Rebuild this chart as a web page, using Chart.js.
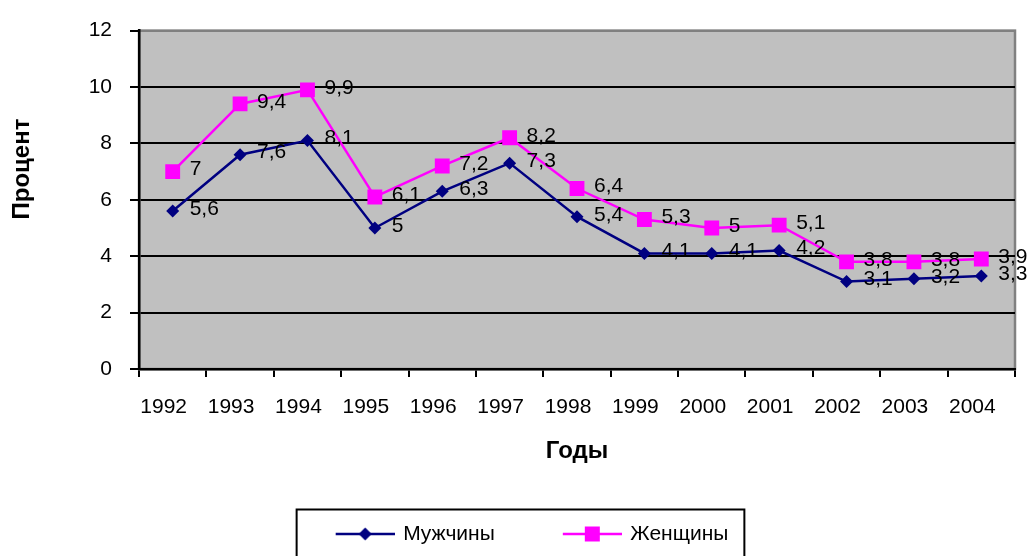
<!DOCTYPE html>
<html>
<head>
<meta charset="utf-8">
<script src="https://cdn.jsdelivr.net/npm/chart.js@4/dist/chart.umd.min.js"></script>
<style>
  body { margin: 0; background: #fff; }
</style>
</head>
<body>
<canvas id="myChart" width="1029" height="556"></canvas>
<script>
// Values
const years = ["1992", "1993", "1994", "1995", "1996", "1997", "1998", "1999", "2000", "2001", "2002", "2003", "2004"];
const men = [5.6, 7.6, 8.1, 5, 6.3, 7.3, 5.4, 4.1, 4.1, 4.2, 3.1, 3.2, 3.3];
const women = [7, 9.4, 9.9, 6.1, 7.2, 8.2, 6.4, 5.3, 5, 5.1, 3.8, 3.8, 3.9];
const yTicks = [0, 2, 4, 6, 8, 10, 12];
const seriesNames = ["Мужчины", "Женщины"];
const yTitle = "Процент";
const xTitle = "Годы";

const FONT = "'Liberation Sans', Arial, sans-serif";
Chart.defaults.font.family = FONT;
Chart.defaults.color = "#000";

// legend icon: line with the marker in the middle (left part stays empty = gap between items)
function legendIcon(color, style) {
  const c = document.createElement("canvas");
  c.width = 110;
  c.height = 20;
  const g = c.getContext("2d");
  g.strokeStyle = color;
  g.fillStyle = color;
  g.lineWidth = 2.5;
  g.beginPath();
  g.moveTo(51, 10);
  g.lineTo(110, 10);
  g.stroke();
  const cx = 80.5;
  g.beginPath();
  if (style === "rect") {
    g.rect(cx - 7.5, 2.5, 15, 15);
  } else {
    g.moveTo(cx - 6.5, 10);
    g.lineTo(cx, 3.5);
    g.lineTo(cx + 6.5, 10);
    g.lineTo(cx, 16.5);
    g.closePath();
  }
  g.fill();
  return c;
}

// grey plot area with its border
const plotArea = {
  id: "plotArea",
  beforeDraw(chart) {
    const { ctx, chartArea: a } = chart;
    ctx.save();
    ctx.fillStyle = "#C0C0C0";
    ctx.fillRect(a.left, a.top, a.right - a.left, a.bottom - a.top);
    ctx.strokeStyle = "#808080";
    ctx.lineWidth = 2.5;
    ctx.strokeRect(a.left, a.top, a.right - a.left, a.bottom - a.top);
    ctx.restore();
  },
};

// value labels right of each point, with a decimal comma
const valueLabels = {
  id: "valueLabels",
  afterDatasetsDraw(chart) {
    const ctx = chart.ctx;
    ctx.save();
    ctx.font = "21px " + FONT;
    ctx.fillStyle = "#000";
    ctx.textAlign = "left";
    ctx.textBaseline = "middle";
    chart.data.datasets.forEach((ds, i) => {
      chart.getDatasetMeta(i).data.forEach((pt, j) => {
        ctx.fillText(String(ds.data[j]).replace(".", ","), pt.x + 17, pt.y - 2);
      });
    });
    ctx.restore();
  },
};

// y title (sits higher than the axis middle) and the legend frame
const extras = {
  id: "extras",
  afterDraw(chart) {
    const ctx = chart.ctx;
    ctx.save();
    ctx.translate(29, 169);
    ctx.rotate(-Math.PI / 2);
    ctx.font = "bold 24px " + FONT;
    ctx.textAlign = "center";
    ctx.textBaseline = "alphabetic";
    ctx.fillStyle = "#000";
    ctx.fillText(yTitle, 0, 0);
    ctx.restore();

    const boxes = chart.legend.legendHitBoxes;
    if (boxes && boxes.length) {
      const first = boxes[0];
      const last = boxes[boxes.length - 1];
      const left = first.left + 49 - 39;
      const right = last.left + last.width + 16;
      const top = first.top + first.height / 2 - 24.5;
      ctx.save();
      ctx.strokeStyle = "#000";
      ctx.lineWidth = 2;
      ctx.strokeRect(left, top, right - left, 60);
      ctx.restore();
    }
  },
};

const icons = [legendIcon("#000080", "rectRot"), legendIcon("#FF00FF", "rect")];

new Chart(document.getElementById("myChart"), {
  type: "line",
  data: {
    labels: years,
    datasets: [
      {
        label: seriesNames[0],
        data: men,
        borderColor: "#000080",
        backgroundColor: "#000080",
        borderWidth: 2.5,
        pointStyle: "rectRot",
        pointRadius: 6.5,
        pointBorderWidth: 0,
        tension: 0,
      },
      {
        label: seriesNames[1],
        data: women,
        borderColor: "#FF00FF",
        backgroundColor: "#FF00FF",
        borderWidth: 2.5,
        pointStyle: "rect",
        pointRadius: 10.5,
        pointBorderWidth: 0,
        tension: 0,
      },
    ],
  },
  options: {
    responsive: false,
    animation: false,
    devicePixelRatio: 1,
    layout: {
      autoPadding: false,
      padding: { left: 0, right: 14, top: 23, bottom: 1.5 },
    },
    scales: {
      x: {
        type: "category",
        offset: true,
        grid: {
          display: true,
          drawOnChartArea: false,
          drawTicks: true,
          tickLength: 8,
          offset: true,
          color: "#000",
          lineWidth: 2,
        },
        border: { color: "#000", width: 2.5 },
        ticks: {
          font: { size: 21 },
          padding: 18,
          labelOffset: -9,
          maxRotation: 0,
          autoSkip: false,
        },
        title: {
          display: true,
          text: xTitle,
          font: { size: 24, weight: "bold" },
          padding: { top: 0, bottom: 39 },
        },
        afterFit: (scale) => {
          scale.height = 135.5;
        },
      },
      y: {
        min: 0,
        max: 12,
        afterBuildTicks: (scale) => {
          scale.ticks = yTicks.map((v) => ({ value: v }));
        },
        grid: {
          color: (c) => (c.tick && c.tick.value === 12 ? "#808080" : "#000"),
          lineWidth: 2,
          tickLength: 9,
          tickColor: "#000",
          tickWidth: 2,
        },
        border: { color: "#000", width: 2.5 },
        ticks: {
          font: { size: 21 },
          padding: 18,
        },
        afterFit: (scale) => {
          scale.width = 139;
        },
      },
    },
    plugins: {
      legend: {
        position: "bottom",
        labels: {
          usePointStyle: true,
          pointStyleWidth: 106,
          padding: 19,
          color: "#000",
          font: { size: 21 },
          generateLabels: (chart) => {
            const items = Chart.defaults.plugins.legend.labels.generateLabels(chart);
            items.forEach((it, i) => {
              it.pointStyle = icons[i];
            });
            return items;
          },
        },
      },
      tooltip: { enabled: false },
    },
  },
  plugins: [plotArea, valueLabels, extras],
});
</script>
</body>
</html>
